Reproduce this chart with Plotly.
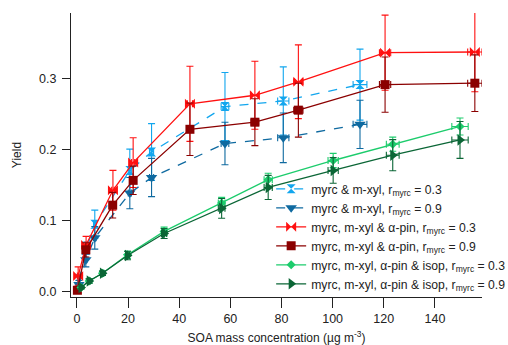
import plotly.graph_objects as go

# ---- data ----
lb_x = [0.8, 3.5, 7.0, 20.7, 29.2, 57.9, 80.7, 110.7]
lb_y = [0.016, 0.058, 0.095, 0.171, 0.197, 0.261, 0.269, 0.292]
lb_err = [0.008, 0.012, 0.020, 0.030, 0.040, 0.048, 0.048, 0.050]
lb_xerr = [0.3, 0.4, 0.5, 0.6, 0.8, 1.5, 2.2, 2.7]

db_x = [0.8, 3.5, 7.0, 20.7, 29.2, 57.9, 80.7, 110.7]
db_y = [0.010, 0.045, 0.076, 0.139, 0.161, 0.209, 0.217, 0.236]
db_err = [0.006, 0.010, 0.016, 0.022, 0.027, 0.030, 0.035, 0.034]
db_xerr = [0.3, 0.4, 0.5, 0.6, 0.8, 1.5, 2.2, 2.7]

r_x = [0.5, 3.6, 14.1, 22.0, 44.2, 69.6, 86.6, 120.5, 155.6]
r_y = [0.022, 0.066, 0.143, 0.182, 0.265, 0.277, 0.296, 0.337, 0.338]
r_err = [0.013, 0.012, 0.028, 0.035, 0.053, 0.048, 0.052, 0.053, 0.056]
r_xerr = [0.3, 0.4, 0.5, 0.6, 1.0, 1.5, 1.8, 2.2, 2.8]

dr_x = [0.2, 3.5, 14.0, 22.0, 44.2, 69.6, 86.6, 120.5, 155.6]
dr_y = [0.002, 0.059, 0.122, 0.157, 0.229, 0.239, 0.256, 0.292, 0.294]
dr_err = [0.004, 0.010, 0.018, 0.020, 0.037, 0.033, 0.038, 0.039, 0.040]
dr_xerr = [0.3, 0.4, 0.5, 0.6, 1.0, 1.5, 1.8, 2.2, 2.8]

g_x = [1.6, 4.8, 10.0, 19.8, 34.1, 56.6, 74.8, 100.2, 123.5, 149.8]
g_xerr = [0.3, 0.4, 0.5, 0.7, 1.0, 1.3, 1.6, 2.0, 2.5, 3.2]
lg_y = [0.006, 0.015, 0.026, 0.052, 0.085, 0.125, 0.158, 0.185, 0.208, 0.233]
lg_err = [0.002, 0.003, 0.003, 0.005, 0.006, 0.008, 0.009, 0.010, 0.010, 0.012]
dg_y = [0.006, 0.015, 0.026, 0.051, 0.082, 0.1175, 0.147, 0.171, 0.1925, 0.214]
dg_err = [0.002, 0.003, 0.003, 0.006, 0.007, 0.014, 0.017, 0.018, 0.022, 0.026]

x_ticks = [0, 20, 40, 60, 80, 100, 120, 140]
y_ticks = [0, 0.1, 0.2, 0.3]

series = [
    ("myrc & m-xyl, r<sub>myrc</sub> = 0.3", lb_x, lb_y, lb_err, lb_xerr, "#12a6ee", "hourglass", 9, "dash"),
    ("myrc & m-xyl, r<sub>myrc</sub> = 0.9", db_x, db_y, db_err, db_xerr, "#0f6aa0", "triangle-down", 10, "dash"),
    ("myrc, m-xyl & α-pin, r<sub>myrc</sub> = 0.3", r_x, r_y, r_err, r_xerr, "#ff1010", "bowtie", 10, "solid"),
    ("myrc, m-xyl & α-pin, r<sub>myrc</sub> = 0.9", dr_x, dr_y, dr_err, dr_xerr, "#8b0000", "square", 9, "solid"),
    ("myrc, m-xyl, α-pin & isop, r<sub>myrc</sub> = 0.3", g_x, lg_y, lg_err, g_xerr, "#1ccc6c", "diamond", 7, "solid"),
    ("myrc, m-xyl, α-pin & isop, r<sub>myrc</sub> = 0.9", g_x, dg_y, dg_err, g_xerr, "#0b6636", "triangle-right", 10, "solid"),
]

fig = go.Figure()
for name, x, y, ey, ex, col, sym, sz, dash in series:
    fig.add_trace(go.Scatter(
        x=x, y=y, name=name, mode="lines+markers",
        line=dict(color=col, width=1.3, dash=dash),
        marker=dict(symbol=sym, size=sz, color=col),
        error_y=dict(type="data", array=ey, visible=True, color=col, thickness=1.1, width=3.5),
        error_x=dict(type="data", array=ex, visible=True, color=col, thickness=1.1, width=3.5),
    ))

font = "Arial, Liberation Sans, sans-serif"
fig.update_layout(
    width=508, height=345,
    margin=dict(l=71, r=26, t=13, b=48, autoexpand=False),
    paper_bgcolor="white", plot_bgcolor="white",
    font=dict(family=font, size=12.5, color="#222"),
    showlegend=True,
    legend=dict(x=0.487, y=0.432, xanchor="left", yanchor="top",
                bgcolor="rgba(0,0,0,0)", font=dict(size=12.2, family=font),
                tracegroupgap=0, itemwidth=30),
    xaxis=dict(range=[-2.3, 158.4], tickvals=x_ticks,
               showgrid=False, zeroline=False, showline=True, linecolor="#222", linewidth=1.2,
               ticks="outside", ticklen=10, tickcolor="#222",
               title=dict(text="SOA mass concentration (µg m<sup>-3</sup>)", standoff=8,
                          font=dict(size=12)),
               tickfont=dict(size=12.5)),
    yaxis=dict(range=[-0.0075, 0.393], tickvals=y_ticks, tickformat=".1f",
               showgrid=False, zeroline=False, showline=True, linecolor="#222", linewidth=1.2,
               ticks="outside", ticklen=8, tickcolor="#222", ticklabelstandoff=3,
               title=dict(text="Yield", standoff=14, font=dict(size=12)), tickfont=dict(size=12.5)),
)
fig.write_html("out.html")
